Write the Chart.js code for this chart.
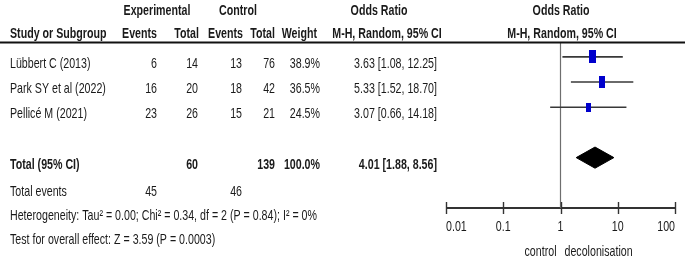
<!DOCTYPE html>
<html>
<head>
<meta charset="utf-8">
<script src="https://cdn.jsdelivr.net/npm/chart.js@4.4.1/dist/chart.umd.min.js"></script>
<style>
  html, body { margin: 0; padding: 0; background: #fff; }
  #wrap { width: 685px; height: 260px; position: relative; }
</style>
</head>
<body>
<div id="wrap"><canvas id="forestCanvas"></canvas></div>
<script>
// Forest plot: decolonisation vs control (odds ratio, M-H random)
const studies = ['Lübbert C (2013)', 'Park SY et al (2022)', 'Pellicé M (2021)'];
const expEvents = [6, 16, 23];
const expTotal = [14, 20, 26];
const ctrlEvents = [13, 18, 15];
const ctrlTotal = [76, 42, 21];
const weights = [38.9, 36.5, 24.5];
const orEst = [3.63, 5.33, 3.07];
const orLow = [1.08, 1.52, 0.66];
const orHigh = [12.25, 18.70, 14.18];
const orText = ['3.63 [1.08, 12.25]', '5.33 [1.52, 18.70]', '3.07 [0.66, 14.18]'];

const pooled = { est: 4.01, low: 1.88, high: 8.56, text: '4.01 [1.88, 8.56]' };
const pooledTotals = { exp: 60, ctrl: 139, weight: '100.0%', expEvents: 45, ctrlEvents: 46 };
const heterogeneity = 'Heterogeneity: Tau² = 0.00; Chi² = 0.34, df = 2 (P = 0.84); I² = 0%';
const overallEffect = 'Test for overall effect: Z = 3.59 (P = 0.0003)';

const axisTicks = [0.01, 0.1, 1, 10, 100];
const axisTickLabels = ['0.01', '0.1', '1', '10', '100'];
const favoursLeft = 'control';
const favoursRight = 'decolonisation';

// rows on the y scale: studies 0..2, pooled row 4, axis row 6
const studyRows = studies.map((s, i) => i);
const POOLED_ROW = 4;
const AXIS_ROW = 6;

const FONT = '"Liberation Sans", Arial, sans-serif';
const FONT_PX = 15;
const SQUASH = 0.71;
const INK = '#1a1a1a';

function squareStyle(w) {
  const h = Math.round(3 + w * 0.26);
  const c = document.createElement('canvas');
  c.width = Math.round(h * 0.52);
  c.height = h;
  const g = c.getContext('2d');
  g.fillStyle = '#0000cc';
  g.fillRect(0, 0, c.width, c.height);
  return c;
}

function txt(ctx, s, x, y, align, bold) {
  ctx.save();
  ctx.font = (bold ? 'bold ' : '') + FONT_PX + 'px ' + FONT;
  ctx.fillStyle = INK;
  ctx.textAlign = align;
  ctx.textBaseline = 'alphabetic';
  ctx.scale(SQUASH, 1);
  ctx.fillText(s, x / SQUASH, y);
  ctx.restore();
}

const forestText = {
  id: 'forestText',
  afterDatasetsDraw(chart) {
    const ctx = chart.ctx;
    const xs = chart.scales.x, ys = chart.scales.y;
    const area = chart.chartArea;

    // header rule
    ctx.save();
    ctx.strokeStyle = '#111';
    ctx.lineWidth = 2;
    ctx.beginPath();
    ctx.moveTo(0, area.top - 0.5);
    ctx.lineTo(chart.width, area.top - 0.5);
    ctx.stroke();

    // axis ticks
    const ay = ys.getPixelForValue(AXIS_ROW);
    ctx.lineWidth = 1.4;
    ctx.strokeStyle = '#333';
    axisTicks.forEach(v => {
      const px = Math.round(xs.getPixelForValue(v)) + 0.5;
      ctx.beginPath();
      ctx.moveTo(px, ay - 6);
      ctx.lineTo(px, ay + 6);
      ctx.stroke();
    });
    ctx.restore();

    // headers
    txt(ctx, 'Experimental', 157, 15, 'center', true);
    txt(ctx, 'Control', 238, 15, 'center', true);
    txt(ctx, 'Odds Ratio', 379, 15, 'center', true);
    txt(ctx, 'Odds Ratio', 561, 15, 'center', true);
    txt(ctx, 'Study or Subgroup', 10, 38, 'left', true);
    txt(ctx, 'Events', 157, 38, 'right', true);
    txt(ctx, 'Total', 199, 38, 'right', true);
    txt(ctx, 'Events', 243, 38, 'right', true);
    txt(ctx, 'Total', 275, 38, 'right', true);
    txt(ctx, 'Weight', 317, 38, 'right', true);
    txt(ctx, 'M-H, Random, 95% CI', 387, 38, 'center', true);
    txt(ctx, 'M-H, Random, 95% CI', 562, 38, 'center', true);

    // study rows
    studies.forEach((s, i) => {
      const y = ys.getPixelForValue(studyRows[i]) + 11;
      txt(ctx, s, 10, y, 'left');
      txt(ctx, String(expEvents[i]), 157, y, 'right');
      txt(ctx, String(expTotal[i]), 198, y, 'right');
      txt(ctx, String(ctrlEvents[i]), 242, y, 'right');
      txt(ctx, String(ctrlTotal[i]), 275, y, 'right');
      txt(ctx, weights[i].toFixed(1) + '%', 320, y, 'right');
      txt(ctx, orText[i], 437, y, 'right');
    });

    // pooled row
    const py = ys.getPixelForValue(POOLED_ROW) + 11;
    txt(ctx, 'Total (95% CI)', 10, py, 'left', true);
    txt(ctx, String(pooledTotals.exp), 198, py, 'right', true);
    txt(ctx, String(pooledTotals.ctrl), 275, py, 'right', true);
    txt(ctx, pooledTotals.weight, 320, py, 'right', true);
    txt(ctx, pooled.text, 437, py, 'right', true);

    txt(ctx, 'Total events', 10, 196, 'left');
    txt(ctx, String(pooledTotals.expEvents), 157, 196, 'right');
    txt(ctx, String(pooledTotals.ctrlEvents), 242, 196, 'right');
    txt(ctx, heterogeneity, 10, 220, 'left');
    txt(ctx, overallEffect, 10, 244, 'left');

    // axis labels
    const ly = ay + 23;
    axisTicks.forEach((v, i) => {
      const px = xs.getPixelForValue(v);
      const align = i === 0 ? 'left' : (i === axisTicks.length - 1 ? 'right' : 'center');
      txt(ctx, axisTickLabels[i], px, ly, align);
    });
    const one = xs.getPixelForValue(1);
    txt(ctx, favoursLeft, one - 4, ay + 48, 'right');
    txt(ctx, favoursRight, one + 4, ay + 48, 'left');
  }
};

const ciDatasets = studies.map((s, i) => ({
  label: s + ' CI',
  data: [{ x: orLow[i], y: studyRows[i] }, { x: orHigh[i], y: studyRows[i] }],
  showLine: true,
  borderColor: '#383838',
  borderWidth: 1.6,
  pointRadius: 0,
  clip: false,
  order: 2
}));

const DIAMOND_HALF = 0.42;

new Chart(document.getElementById('forestCanvas').getContext('2d'), {
  type: 'scatter',
  data: {
    datasets: [
      {
        label: 'Study OR',
        data: studies.map((s, i) => ({ x: orEst[i], y: studyRows[i] })),
        pointStyle: weights.map(w => squareStyle(w)),
        backgroundColor: '#0000cc',
        clip: false,
        order: 0
      },
      {
        label: 'Pooled',
        data: [
          { x: pooled.low, y: POOLED_ROW },
          { x: pooled.est, y: POOLED_ROW - DIAMOND_HALF },
          { x: pooled.high, y: POOLED_ROW },
          { x: pooled.est, y: POOLED_ROW + DIAMOND_HALF },
          { x: pooled.low, y: POOLED_ROW }
        ],
        showLine: true,
        fill: 'shape',
        backgroundColor: '#000',
        borderColor: '#000',
        borderWidth: 1,
        pointRadius: 0,
        tension: 0,
        clip: false,
        order: 1
      },
      ...ciDatasets,
      {
        label: 'No effect',
        data: [{ x: 1, y: -0.55 }, { x: 1, y: AXIS_ROW }],
        showLine: true,
        borderColor: '#6e6e6e',
        borderWidth: 1.2,
        pointRadius: 0,
        clip: false,
        order: 3
      },
      {
        label: 'Axis',
        data: [{ x: axisTicks[0], y: AXIS_ROW }, { x: axisTicks[axisTicks.length - 1], y: AXIS_ROW }],
        showLine: true,
        borderColor: '#333',
        borderWidth: 2,
        pointRadius: 0,
        clip: false,
        order: 4
      }
    ]
  },
  options: {
    responsive: true,
    maintainAspectRatio: false,
    animation: false,
    layout: { padding: { left: 446, right: 10, top: 43, bottom: 52 } },
    plugins: {
      legend: { display: false },
      tooltip: { enabled: false }
    },
    scales: {
      x: { type: 'logarithmic', min: 0.01, max: 100, display: false },
      y: { type: 'linear', min: -0.55, max: AXIS_ROW, reverse: true, display: false }
    }
  },
  plugins: [forestText]
});
</script>
</body>
</html>
